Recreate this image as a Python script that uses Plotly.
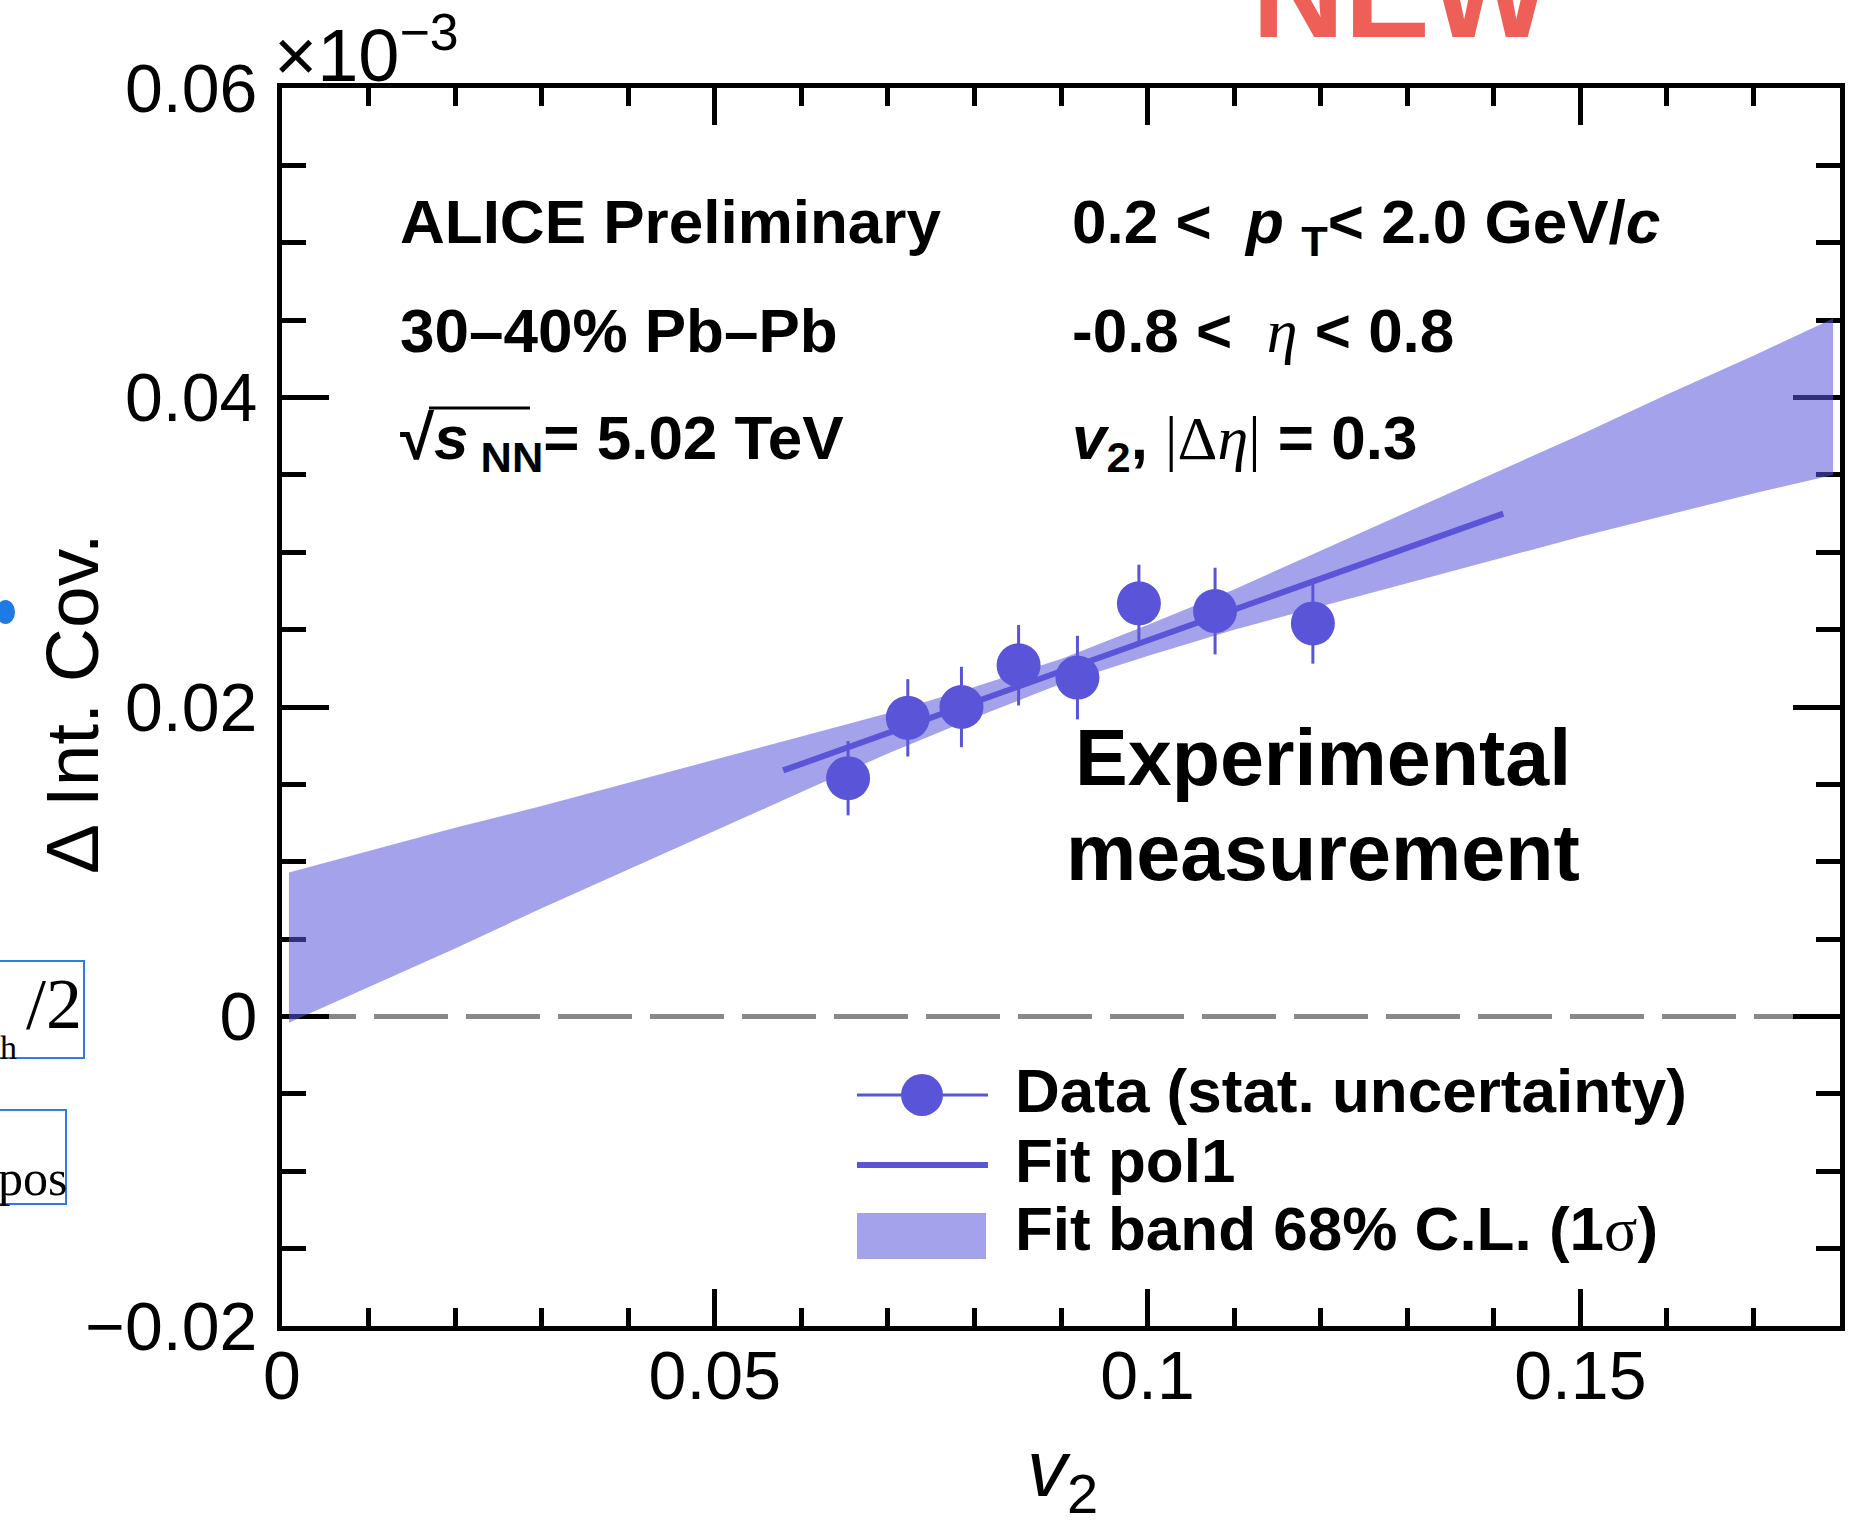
import plotly.graph_objects as go

# ---------------- data ----------------
v2 = [0.0654, 0.0723, 0.0785, 0.0851, 0.0919, 0.0990, 0.1078, 0.1191]
delta_cov = [0.0154, 0.0193, 0.0200, 0.0227, 0.0219, 0.0267, 0.0262, 0.0254]
stat_err = [0.0024, 0.0025, 0.0026, 0.0026, 0.0027, 0.0025, 0.0028, 0.0026]

fit_x = [0.0579, 0.1411]
fit_y = [0.0159, 0.0325]

band_x = [0.0008, 0.01, 0.02, 0.03, 0.04, 0.05, 0.06, 0.07, 0.08, 0.09,
          0.10, 0.11, 0.12, 0.13, 0.14, 0.15, 0.16, 0.17, 0.1792]
band_hi = [0.0093, 0.0107, 0.0122, 0.0136, 0.0151, 0.0166, 0.0181, 0.0196, 0.0213, 0.0231,
           0.0253, 0.0276, 0.0301, 0.0326, 0.0351, 0.0376, 0.0402, 0.0427, 0.0451]
band_lo = [-0.0004, 0.0019, 0.0044, 0.0070, 0.0095, 0.0120, 0.0145, 0.0170, 0.0193, 0.0215,
           0.0233, 0.0250, 0.0265, 0.0280, 0.0295, 0.0310, 0.0324, 0.0338, 0.0350]

x_tickvals = [0, 0.05, 0.1, 0.15]
x_ticktext = ["0", "0.05", "0.1", "0.15"]
y_tickvals = [-0.02, 0, 0.02, 0.04, 0.06]
y_ticktext = ["\u22120.02", "0", "0.02", "0.04", "0.06"]

# ---------------- style ----------------
W, H = 1874, 1522
L, R, T, B = 282, 1840, 88, 1326
MC = "#5A55D8"
BAND = "rgba(90,86,216,0.55)"
FONT = "Liberation Sans"
SERIF = "Liberation Serif"


def px(x):
    return (x - L) / (R - L)


def py(y):
    return (B - y) / (B - T)


fig = go.Figure()

fig.add_trace(go.Scatter(
    x=band_x + band_x[::-1], y=band_hi + band_lo[::-1],
    fill="toself", fillcolor=BAND, line=dict(width=0), mode="lines",
    hoverinfo="skip", showlegend=False))

fig.add_trace(go.Scatter(
    x=fit_x, y=fit_y, mode="lines", line=dict(color=MC, width=6), showlegend=False))

fig.add_trace(go.Scatter(
    x=v2, y=delta_cov, mode="markers",
    marker=dict(color=MC, size=44, line=dict(width=0)),
    error_y=dict(type="data", array=stat_err, color=MC, thickness=3, width=0),
    showlegend=False))

# dashed zero line
fig.add_shape(type="line", xref="paper", x0=0, x1=1, yref="y", y0=0, y1=0,
              line=dict(color="#888888", width=5, dash="74px,18px"), layer="below")

axis_common = dict(showgrid=False, zeroline=False, showline=True, linecolor="black",
                   linewidth=5, mirror="allticks", ticks="inside", tickcolor="black",
                   tickwidth=5, layer="below traces",
                   tickfont=dict(family=FONT, size=68, color="black"))

fig.update_xaxes(range=[0, 0.18], tickvals=x_tickvals, ticktext=x_ticktext, ticklen=37,
                 ticklabelstandoff=-14,
                 minor=dict(dtick=0.01, tick0=0, ticklen=18, tickwidth=5, ticks="inside",
                            tickcolor="black"),
                 **axis_common)
fig.update_yaxes(range=[-0.02, 0.06], tickvals=y_tickvals, ticktext=y_ticktext, ticklen=47,
                 ticklabelstandoff=6,
                 minor=dict(dtick=0.005, tick0=0, ticklen=24, tickwidth=5, ticks="inside",
                            tickcolor="black"),
                 **axis_common)

ann = []


def text(s, x, y, size, xanchor="left", yanchor="top", color="black", family=FONT,
         angle=0):
    ann.append(dict(text=s, x=px(x), y=py(y), xref="paper", yref="paper",
                    xanchor=xanchor, yanchor=yanchor, showarrow=False, textangle=angle,
                    font=dict(family=family, size=size, color=color)))


# exponent
text("\u00d710<sup>\u22123</sup>", 272, 99, 74, yanchor="bottom")

# left column
fs = 62
for s, base in [("<b>ALICE Preliminary</b>", 241),
                ("<b>30\u201340% Pb\u2013Pb</b>", 350),
                ("<b>\u221a<i>s</i><sub> NN</sub>= 5.02 TeV</b>", 457)]:
    text(s, 398, base - 0.905 * fs, fs)

# right column
eta = "<span style='font-family:Liberation Serif;font-weight:normal'><i>\u03b7</i></span>"
deta = "<span style='font-family:Liberation Serif;font-weight:normal'>|\u0394<i>\u03b7</i>|</span>"
for s, base in [("<b>0.2 <  <i>p</i> <sub>T</sub>< 2.0 GeV/<i>c</i></b>", 241),
                ("<b>-0.8 <  " + eta + " < 0.8</b>", 350),
                ("<b><i>v</i><sub>2</sub>, " + deta + " = 0.3</b>", 457)]:
    text(s, 1070, base - 0.905 * fs, fs)

# big label
fs2 = 79
text("<b>Experimental</b>", 1323, 782 - 0.905 * fs2, fs2, xanchor="center")
text("<b>measurement</b>", 1323, 877 - 0.905 * fs2, fs2, xanchor="center")

# legend texts
sig = "<span style='font-family:Liberation Serif;font-weight:normal'>\u03c3</span>"
for s, base in [("<b>Data (stat. uncertainty)</b>", 1110),
                ("<b>Fit pol1</b>", 1180),
                ("<b>Fit band 68% C.L. (1" + sig + ")</b>", 1248)]:
    text(s, 1013, base - 0.905 * fs, fs)

# axis titles
text("\u0394 Int. Cov.", 72, 704, 75, xanchor="center", yanchor="middle", angle=-90)
text("<i>v</i><sub>2</sub>", 1062, 1494 - 0.905 * 80, 80, xanchor="center")

# NEW (cut at top)
text("<b>NEW</b>", 1250, 35 - 0.905 * 128, 128, color="#EE5F58")

# left-edge fragments
text("/2", 84, 962, 72, xanchor="right", family=SERIF)
text("h", 19, 1027, 34, xanchor="right", family=SERIF)
text("pos", 69, 1148, 50, xanchor="right", family=SERIF)

fig.update_layout(annotations=ann)

# overline of the square root
fig.add_shape(type="line", xref="paper", yref="paper", x0=px(429), x1=px(530),
              y0=py(408), y1=py(408), line=dict(color="black", width=3))

# legend symbols
fig.add_shape(type="line", xref="paper", yref="paper", x0=px(857), x1=px(988),
              y0=py(1095), y1=py(1095), line=dict(color=MC, width=3))
fig.add_shape(type="circle", xref="paper", yref="paper", xsizemode="pixel",
              ysizemode="pixel", xanchor=px(922), yanchor=py(1095),
              x0=-21, x1=21, y0=-21, y1=21, fillcolor=MC, line=dict(width=0))
fig.add_shape(type="line", xref="paper", yref="paper", x0=px(857), x1=px(988),
              y0=py(1165), y1=py(1165), line=dict(color=MC, width=6))
fig.add_shape(type="rect", xref="paper", yref="paper", x0=px(857), x1=px(986),
              y0=py(1259), y1=py(1213), fillcolor=BAND, line=dict(width=0))

# fragment boxes and blob
fig.add_shape(type="rect", xref="paper", yref="paper", x0=px(-10), x1=px(84),
              y0=py(1058), y1=py(961), line=dict(color="#2A7FE0", width=2))
fig.add_shape(type="rect", xref="paper", yref="paper", x0=px(-10), x1=px(66),
              y0=py(1204), y1=py(1110), line=dict(color="#2A7FE0", width=2))
fig.add_shape(type="circle", xref="paper", yref="paper", x0=px(-4), x1=px(15),
              y0=py(624), y1=py(600), fillcolor="#1E7BE6", line=dict(width=0))

fig.update_layout(width=W, height=H, margin=dict(l=L, r=W - R, t=T, b=H - B),
                  paper_bgcolor="white", plot_bgcolor="white", showlegend=False,
                  font=dict(family=FONT, color="black"))

fig.write_html("out.html")
